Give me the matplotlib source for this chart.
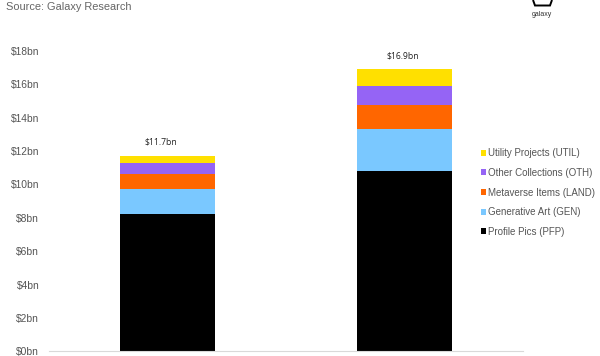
import matplotlib
matplotlib.use("Agg")
import matplotlib.pyplot as plt
import numpy as np
from matplotlib.patches import Polygon

plt.rcParams['font.family'] = ['Liberation Sans', 'DejaVu Sans']

x_labels = ["", ""]
totals = [11.7, 16.9]
total_labels = ["$11.7bn", "$16.9bn"]
series_names = ["Profile Pics (PFP)", "Generative Art (GEN)", "Metaverse Items (LAND)",
                "Other Collections (OTH)", "Utility Projects (UTIL)"]
pfp = [8.25, 10.8]
gen = [1.5, 2.55]
land = [0.9, 1.4]
oth = [0.65, 1.15]
util = [0.4, 1.0]
y_ticks = [0, 2, 4, 6, 8, 10, 12, 14, 16, 18]
y_tick_labels = ["$%dbn" % v for v in y_ticks]

colors = ["#000000", "#7AC8FF", "#FF6600", "#9564F5", "#FFE000"]

W, H = 600, 356
fig = plt.figure(figsize=(W / 100, H / 100), dpi=100)
ax = fig.add_axes([49 / W, (H - 351.3) / H, 474 / W, 300.3 / H])

pos = np.arange(len(totals))
bottom = np.zeros(len(totals))
for name, vals, c in zip(series_names, [pfp, gen, land, oth, util], colors):
    ax.bar(pos, vals, bottom=bottom, width=0.4, color=c, label=name)
    bottom = bottom + np.array(vals)

# left label sits off centre in the original
for p, t, lab, dx, dy in zip(pos, totals, total_labels, [-0.03, -0.006], [0.87, 0.82]):
    ax.text(p + dx, t + dy, lab, ha='center', va='center', fontsize=6.2,
            family=['Open Sans', 'DejaVu Sans'], color='#222222')

ax.set_xlim(-0.5, 1.5)
ax.set_ylim(0, 18)
ax.set_xticks(pos)
ax.set_xticklabels(x_labels)
ax.set_yticks(y_ticks)
ax.set_yticklabels(y_tick_labels, fontsize=7.4, color='#555555')
ax.tick_params(length=0, pad=7)
for s in ['top', 'right', 'left']:
    ax.spines[s].set_visible(False)
ax.spines['bottom'].set_color('#D9D9D9')
ax.spines['bottom'].set_linewidth(0.8)

handles, labels = ax.get_legend_handles_labels()
fig.legend(handles[::-1], labels[::-1], loc='center left', bbox_to_anchor=(481 / W, 1 - 192.5 / H),
           frameon=False, fontsize=7.05, labelcolor='#555555', handlelength=0.55, handleheight=0.55,
           handletextpad=0.2, labelspacing=0.98, borderpad=0, borderaxespad=0)

fig.text(6 / W, 1 - 7.5 / H, "Source: Galaxy Research", fontsize=7.9, color='#666666', va='center', ha='left')

# logo
fig.text(542 / W, 1 - 14 / H, "galaxy", fontsize=5, color='#333333', ha='center', va='center')
fig.add_artist(Polygon([[533 / W, 1], [535 / W, 1 - 5.5 / H], [550 / W, 1 - 5.5 / H], [552 / W, 1]],
                       closed=False, fill=False, edgecolor='black', linewidth=1.4,
                       transform=fig.transFigure))

fig.savefig("out.png", dpi=100)
